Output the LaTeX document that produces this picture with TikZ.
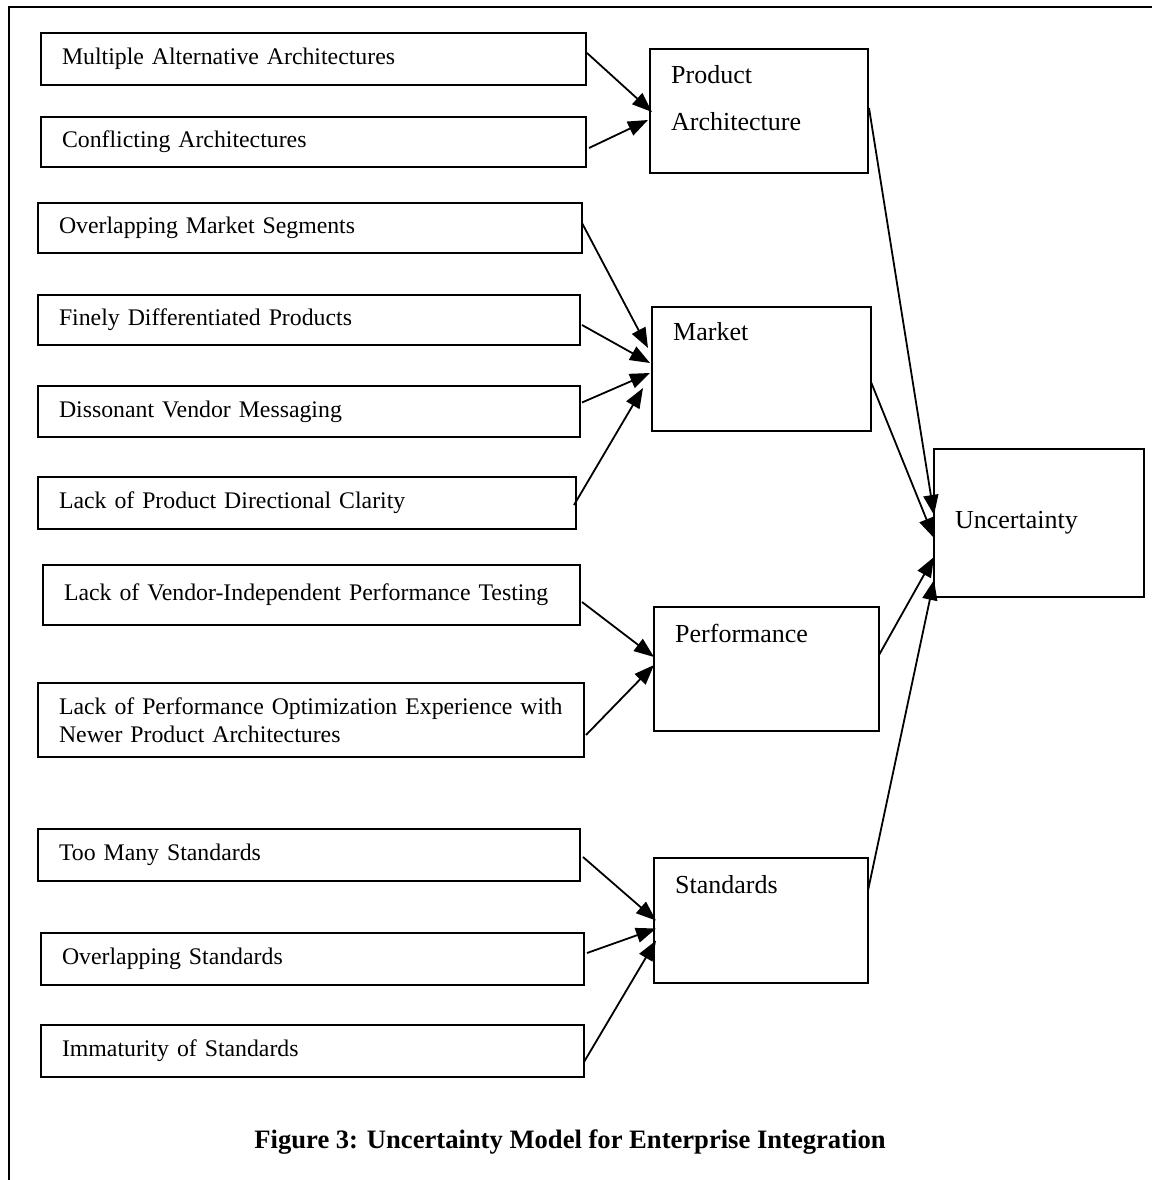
\documentclass[tikz,border=0pt]{standalone}
\usepackage{fontspec}
\setmainfont{Liberation Serif}
\usetikzlibrary{arrows.meta}
\newcommand\causefont{\fontsize{23.8}{28}\selectfont}
\newcommand\factorfont{\fontsize{26}{47}\selectfont}
\tikzset{causebox/.style={draw, line width=1.8pt, anchor=north west, outer sep=0pt, align=left, inner xsep=21pt, inner ysep=0pt, font=\causefont},
         factorbox/.style={draw, line width=1.8pt, anchor=north west, outer sep=0pt, inner sep=0pt},
         factorlabel/.style={anchor=base west, inner sep=0pt, align=left, font=\factorfont},
         link/.style={line width=1.8pt, -{Triangle[length=20pt,width=15pt]}}}

\begin{document}
\begin{tikzpicture}[x=1pt,y=-1pt]
       \useasboundingbox (0,0) rectangle (1152,1180);
       \draw[line width=2.5pt] (9,1180) -- (9,7) -- (1152,7);
       \begin{scope}
        \node[causebox, text width=503pt, minimum height=52pt] (maa)   at (41,33)   {Multiple Alternative Architectures};
        \node[causebox, text width=503pt, minimum height=50pt] (conf)  at (41,117)  {Conflicting Architectures};
        \node[causebox, text width=502pt, minimum height=50pt] (oms)   at (38,203)  {Overlapping Market Segments};
        \node[causebox, text width=500pt, minimum height=50pt] (fdp)   at (38,295)  {Finely Differentiated Products};
        \node[causebox, text width=500pt, minimum height=51pt] (dvm)   at (38,386)  {Dissonant Vendor Messaging};
        \node[causebox, text width=496pt, minimum height=52pt] (lpdc)  at (38,477)  {Lack of Product Directional Clarity};
        \node[causebox, text width=495pt, minimum height=60pt] (lvipt) at (43,565)  {Lack of Vendor-Independent Performance Testing};
        \node[causebox, text width=504pt, minimum height=74pt] (lpoe)  at (38,683)  {\mbox{Lack of Performance Optimization Experience with}\\Newer Product Architectures};
        \node[causebox, text width=500pt, minimum height=52pt] (tms)   at (38,829)  {Too Many Standards};
        \node[causebox, text width=501pt, minimum height=52pt] (os)    at (41,933)  {Overlapping Standards};
        \node[causebox, text width=501pt, minimum height=52pt] (ios)   at (41,1025) {Immaturity of Standards};
       \end{scope}
       \begin{scope}
        \node[factorbox, minimum width=218pt, minimum height=124pt] (pa)     at (650,49)  {};
        \node[factorbox, minimum width=219pt, minimum height=124pt] (market) at (652,307) {};
        \node[factorbox, minimum width=225pt, minimum height=124pt] (perf)   at (654,607) {};
        \node[factorbox, minimum width=214pt, minimum height=125pt] (std)    at (654,858) {};
        \node[factorlabel] (pa-lbl)     at ([shift={(21,82)}]pa.north west)     {Product\\Architecture};
        \node[factorlabel] (market-lbl) at ([shift={(21,33)}]market.north west) {Market};
        \node[factorlabel] (perf-lbl)   at ([shift={(21,35)}]perf.north west)   {Performance};
        \node[factorlabel] (std-lbl)    at ([shift={(21,35)}]std.north west)    {Standards};
        \node[causebox, font=\factorfont, text width=168pt, minimum height=148pt] (unc) at (934,449) {Uncertainty};
       \end{scope}
       \draw[link] ([shift={(1pt,6pt)}]maa.east)    -- ([shift={(2pt,-1pt)}]pa.west);
       \draw[link] ([shift={(3pt,-6pt)}]conf.east)  -- ([shift={(-2pt,-9pt)}]pa.west);
       \draw[link] ([shift={(0pt,5pt)}]oms.east)    -- ([shift={(-4pt,21pt)}]market.west);
       \draw[link] ([shift={(2pt,-5pt)}]fdp.east)   -- ([shift={(-2pt,6pt)}]market.west);
       \draw[link] ([shift={(2pt,9pt)}]dvm.east)    -- ([shift={(-2pt,-4pt)}]market.west);
       \draw[link] ([shift={(-2pt,-2pt)}]lpdc.east) -- ([shift={(-9pt,-19pt)}]market.west);
       \draw[link] ([shift={(2pt,-7pt)}]lvipt.east) -- ([shift={(0pt,12pt)}]perf.west);
       \draw[link] ([shift={(2pt,-15pt)}]lpoe.east) -- ([shift={(0pt,4pt)}]perf.west);
       \draw[link] ([shift={(3pt,-2pt)}]tms.east)   -- ([shift={(2pt,0pt)}]std.west);
       \draw[link] ([shift={(3pt,6pt)}]os.east)     -- ([shift={(2pt,-8pt)}]std.west);
       \draw[link] ([shift={(0pt,-11pt)}]ios.east)  -- ([shift={(2pt,-20pt)}]std.west);
       \draw[link] ([shift={(1pt,3pt)}]pa.east)     -- ([shift={(0pt,8pt)}]unc.west);
       \draw[link] ([shift={(0pt,-13pt)}]market.east) -- ([shift={(0pt,-15pt)}]unc.west);
       \draw[link] ([shift={(0pt,14pt)}]perf.east)  -- ([shift={(0pt,-34pt)}]unc.west);
       \draw[link] ([shift={(0pt,30pt)}]std.east)   -- ([shift={(0pt,-57pt)}]unc.west);
       \node[anchor=base, font=\bfseries\fontsize{26.6}{30}\selectfont] (caption) at (570,1148) {Figure 3: Uncertainty Model for Enterprise Integration};
\end{tikzpicture}
\end{document}
